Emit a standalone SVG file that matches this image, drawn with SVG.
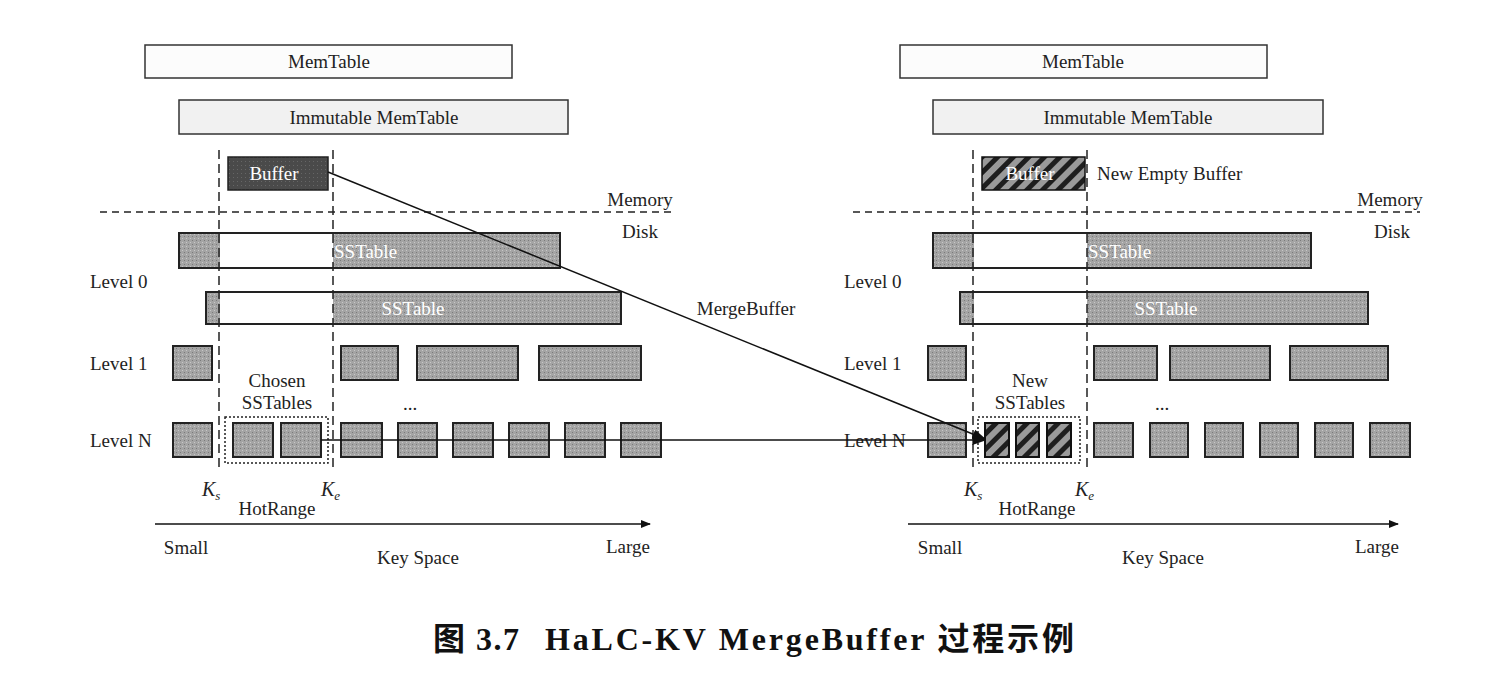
<svg xmlns="http://www.w3.org/2000/svg" width="1510" height="683" viewBox="0 0 1510 683">
<style>
.t{font-family:"Liberation Serif",serif;font-size:19px;fill:#222}
.tw{font-family:"Liberation Serif",serif;font-size:19px;fill:#fff}
.ti{font-family:"Liberation Serif",serif;font-size:20px;font-style:italic;fill:#222}
.box{fill:url(#stip);stroke:#222;stroke-width:2}
.white{fill:#fff;stroke:none}
.vdash{stroke:#222;stroke-width:1.5;stroke-dasharray:9,5;fill:none}
.hdash{stroke:#222;stroke-width:1.5;stroke-dasharray:7,5;fill:none}
.dot{fill:none;stroke:#222;stroke-width:1.5;stroke-dasharray:2,2}
.line{stroke:#111;stroke-width:1.5;fill:none}
.hatch{fill:url(#hatch);stroke:#111;stroke-width:2}
</style>
<defs>
<pattern id="stip" width="4" height="4" patternUnits="userSpaceOnUse">
<rect width="4" height="4" fill="#a4a4a4"/>
<rect x="0" y="0" width="1" height="1" fill="#7a7a7a"/>
<rect x="2" y="2" width="1" height="1" fill="#c8c8c8"/>
</pattern>
<pattern id="dark" width="4" height="4" patternUnits="userSpaceOnUse">
<rect width="4" height="4" fill="#4a4a4a"/>
<rect x="1" y="1" width="1" height="1" fill="#666"/>
</pattern>
<pattern id="hatch" width="11" height="11" patternUnits="userSpaceOnUse" patternTransform="rotate(45)">
<rect width="11" height="11" fill="#9a9a9a"/>
<rect width="5" height="11" fill="#1e1e1e"/>
</pattern>
<marker id="arr" viewBox="0 0 10 10" refX="9" refY="5" markerWidth="10" markerHeight="10" markerUnits="userSpaceOnUse" orient="auto">
<path d="M0,1 L10,5 L0,9 z" fill="#111"/>
</marker>
<marker id="arrL" viewBox="0 0 10 10" refX="9" refY="5" markerWidth="14" markerHeight="14" markerUnits="userSpaceOnUse" orient="auto">
<path d="M0,1.5 L10,5 L0,8.5 z" fill="#111"/>
</marker>
</defs>
<rect width="1510" height="683" fill="#fff"/>

<!-- LEFT PANEL -->
<g id="left-memtable"><rect x="145" y="45" width="367" height="33" fill="#fcfcfc" stroke="#333" stroke-width="1.5"/><text class="t" x="329" y="68" text-anchor="middle">MemTable</text></g>
<g id="left-immutable"><rect x="179" y="100" width="389" height="34" fill="#f1f1f1" stroke="#333" stroke-width="1.5"/><text class="t" x="374" y="124" text-anchor="middle">Immutable MemTable</text></g>
<g id="left-buffer"><rect x="228" y="157" width="100" height="33" fill="url(#dark)" stroke="#222" stroke-width="1.5"/><text class="tw" x="274" y="180" text-anchor="middle">Buffer</text></g>
<g id="left-memline"><line class="hdash" x1="100" y1="212" x2="672" y2="212"/><text class="t" x="640" y="206" text-anchor="middle">Memory</text><text class="t" x="640" y="238" text-anchor="middle">Disk</text></g>
<g id="left-l0a"><rect class="box" x="179" y="233" width="381" height="35"/><rect class="white" x="220" y="234" width="113" height="33"/><text class="tw" x="334" y="258">SSTable</text></g>
<g id="left-l0b"><rect class="box" x="206" y="292" width="415" height="32"/><rect class="white" x="220" y="293" width="113" height="30"/><text class="tw" x="413" y="315" text-anchor="middle">SSTable</text></g>
<text class="t" x="90" y="288">Level 0</text>
<text class="t" x="90" y="370">Level 1</text>
<text class="t" x="90" y="447">Level N</text>
<g id="left-l1"><rect class="box" x="173" y="346" width="39" height="34"/><rect class="box" x="341" y="346" width="57" height="34"/><rect class="box" x="417" y="346" width="101" height="34"/><rect class="box" x="539" y="346" width="102" height="34"/></g>
<g id="left-chosen"><text class="t" x="277" y="387" text-anchor="middle">Chosen</text><text class="t" x="277" y="409" text-anchor="middle">SSTables</text><rect class="dot" x="225" y="417" width="103" height="46"/><rect class="box" x="233" y="423" width="40" height="34"/><rect class="box" x="281" y="423" width="40" height="34"/></g>
<text class="t" x="410" y="410" text-anchor="middle" font-size="14">...</text>
<g id="left-ln"><rect class="box" x="173" y="423" width="39" height="34"/><rect class="box" x="341" y="423" width="41" height="34"/><rect class="box" x="398" y="423" width="39" height="34"/><rect class="box" x="453" y="423" width="40" height="34"/><rect class="box" x="509" y="423" width="40" height="34"/><rect class="box" x="565" y="423" width="40" height="34"/><rect class="box" x="621" y="423" width="40" height="34"/></g>
<g id="left-range"><line class="vdash" x1="219" y1="150" x2="219" y2="470"/><line class="vdash" x1="333" y1="150" x2="333" y2="470"/><text class="ti" x="202" y="496">K<tspan font-size="13" dy="4">s</tspan></text><text class="ti" x="321" y="496">K<tspan font-size="13" dy="4">e</tspan></text><text class="t" x="277" y="515" text-anchor="middle">HotRange</text></g>
<g id="left-axis"><line class="line" x1="155" y1="524" x2="650" y2="524" marker-end="url(#arr)"/><text class="t" x="186" y="554" text-anchor="middle">Small</text><text class="t" x="628" y="553" text-anchor="middle">Large</text><text class="t" x="418" y="564" text-anchor="middle">Key Space</text></g>

<!-- RIGHT PANEL -->
<g id="right-memtable"><rect x="900" y="45" width="367" height="33" fill="#fcfcfc" stroke="#333" stroke-width="1.5"/><text class="t" x="1083" y="68" text-anchor="middle">MemTable</text></g>
<g id="right-immutable"><rect x="933" y="100" width="390" height="34" fill="#f1f1f1" stroke="#333" stroke-width="1.5"/><text class="t" x="1128" y="124" text-anchor="middle">Immutable MemTable</text></g>
<g id="right-buffer"><rect x="982" y="157" width="103" height="33" fill="url(#hatch)" stroke="#111" stroke-width="1.5"/><text class="tw" x="1030" y="180" text-anchor="middle">Buffer</text><text class="t" x="1097" y="180">New Empty Buffer</text></g>
<g id="right-memline"><line class="hdash" x1="853" y1="212" x2="1420" y2="212"/><text class="t" x="1390" y="206" text-anchor="middle">Memory</text><text class="t" x="1392" y="238" text-anchor="middle">Disk</text></g>
<g id="right-l0a"><rect class="box" x="933" y="233" width="378" height="35"/><rect class="white" x="974" y="234" width="113" height="33"/><text class="tw" x="1088" y="258">SSTable</text></g>
<g id="right-l0b"><rect class="box" x="960" y="292" width="408" height="32"/><rect class="white" x="974" y="293" width="113" height="30"/><text class="tw" x="1166" y="315" text-anchor="middle">SSTable</text></g>
<text class="t" x="844" y="288">Level 0</text>
<text class="t" x="844" y="370">Level 1</text>
<text class="t" x="844" y="447">Level N</text>
<g id="right-l1"><rect class="box" x="928" y="346" width="38" height="34"/><rect class="box" x="1094" y="346" width="63" height="34"/><rect class="box" x="1170" y="346" width="100" height="34"/><rect class="box" x="1290" y="346" width="98" height="34"/></g>
<g id="right-new"><text class="t" x="1030" y="387" text-anchor="middle">New</text><text class="t" x="1030" y="409" text-anchor="middle">SSTables</text><rect class="dot" x="978" y="417" width="102" height="46"/><rect class="hatch" x="985" y="423" width="24" height="34"/><rect class="hatch" x="1016" y="423" width="23" height="34"/><rect class="hatch" x="1047" y="423" width="24" height="34"/></g>
<text class="t" x="1162" y="410" text-anchor="middle" font-size="14">...</text>
<g id="right-ln"><rect class="box" x="928" y="423" width="38" height="34"/><rect class="box" x="1094" y="423" width="39" height="34"/><rect class="box" x="1150" y="423" width="38" height="34"/><rect class="box" x="1205" y="423" width="38" height="34"/><rect class="box" x="1260" y="423" width="38" height="34"/><rect class="box" x="1315" y="423" width="38" height="34"/><rect class="box" x="1370" y="423" width="40" height="34"/></g>
<g id="right-range"><line class="vdash" x1="973" y1="150" x2="973" y2="470"/><line class="vdash" x1="1087" y1="150" x2="1087" y2="470"/><text class="ti" x="964" y="496">K<tspan font-size="13" dy="4">s</tspan></text><text class="ti" x="1075" y="496">K<tspan font-size="13" dy="4">e</tspan></text><text class="t" x="1037" y="515" text-anchor="middle">HotRange</text></g>
<g id="right-axis"><line class="line" x1="908" y1="524" x2="1398" y2="524" marker-end="url(#arr)"/><text class="t" x="940" y="554" text-anchor="middle">Small</text><text class="t" x="1377" y="553" text-anchor="middle">Large</text><text class="t" x="1163" y="564" text-anchor="middle">Key Space</text></g>

<!-- CONNECTORS -->
<g id="connectors">
<line class="line" x1="328" y1="172" x2="985" y2="439" marker-end="url(#arrL)"/>
<line class="line" x1="321" y1="440" x2="985" y2="440" marker-end="url(#arrL)"/>
<text class="t" x="746" y="315" text-anchor="middle">MergeBuffer</text>
</g>

<text x="433" y="650" font-family="'Liberation Serif','Noto Sans CJK SC',serif" font-size="32" font-weight="bold" fill="#111" letter-spacing="1.5">图 3.7<tspan x="545" letter-spacing="2.8">HaLC-KV MergeBuffer 过程示例</tspan></text>
</svg>
